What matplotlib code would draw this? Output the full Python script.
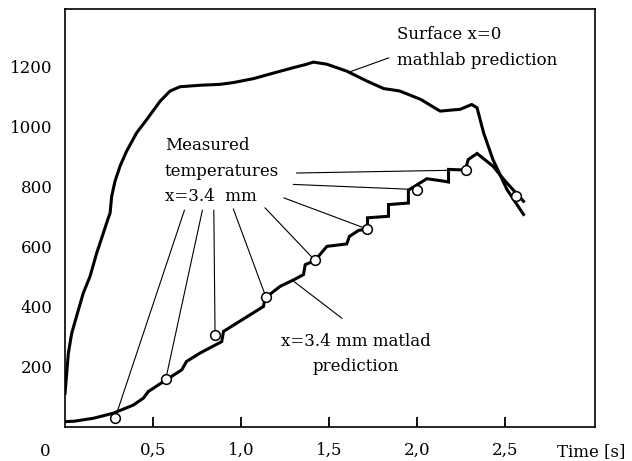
import numpy as np
import matplotlib
matplotlib.use("Agg")
import matplotlib.pyplot as plt

plt.rcParams['font.family'] = ['DejaVu Serif']

# Surface x=0, mathlab prediction
surf_t = [0, 0.019, 0.038, 0.076, 0.104, 0.142, 0.18, 0.218, 0.246, 0.256, 0.265, 0.284,
          0.3125, 0.35, 0.407, 0.464, 0.54, 0.597, 0.653, 0.767, 0.88, 0.956, 1.07, 1.18,
          1.30, 1.373, 1.41, 1.487, 1.60, 1.714, 1.81, 1.90, 2.02, 2.13, 2.244, 2.31,
          2.34, 2.377, 2.43, 2.51, 2.604]
surf_T = [112, 246, 312, 390, 446, 501, 579, 646, 696, 712, 768, 818,
          868, 918, 979, 1023, 1084, 1118, 1132, 1137, 1140, 1146, 1159, 1177,
          1196, 1207, 1214, 1207, 1184, 1151, 1126, 1118, 1090, 1051, 1057, 1073,
          1062, 979, 890, 790, 707]

# x=3.4 mm, matlad prediction
pred_t = [0, 0.05, 0.161, 0.275, 0.388, 0.445, 0.473, 0.559, 0.663, 0.69, 0.767, 0.89,
          0.90, 1.127, 1.136, 1.222, 1.30, 1.354, 1.364, 1.42, 1.487, 1.60, 1.615, 1.667,
          1.718, 1.718, 1.837, 1.837, 1.95, 1.95, 2.055, 2.15, 2.178, 2.178, 2.273, 2.29,
          2.34, 2.43, 2.50, 2.604]
pred_T = [18, 19, 29, 46, 73, 96, 118, 151, 190, 218, 246, 284,
          318, 401, 429, 468, 490, 507, 540, 554, 601, 609, 634, 654,
          659, 696, 701, 740, 745, 788, 826, 818, 815, 857, 855, 890,
          910, 868, 818, 751]

# measured temperatures x=3.4 mm
meas_t = [0.284, 0.572, 0.852, 1.14, 1.42, 1.714, 1.998, 2.275, 2.564]
meas_T = [29, 159, 307, 434, 554, 659, 790, 855, 768]

# start points of the leader lines (under the label)
lead_t = [0.678, 0.78, 0.845, 0.956, 1.136, 1.244, 1.297, 1.316]
lead_T = [721, 721, 721, 725, 729, 762, 807, 845]

xticks = [0.5, 1.0, 1.5, 2.0, 2.5]
xlabels = ['0,5', '1,0', '1,5', '2,0', '2,5']
yticks = [200, 400, 600, 800, 1000, 1200]

fig = plt.figure(figsize=(6.32, 4.61), dpi=100)
ax = fig.add_axes([0.1029, 0.0738, 0.8386, 0.9062])

ax.plot(surf_t, surf_T, color='black', lw=2.2, solid_joinstyle='round')
ax.plot(pred_t, pred_T, color='black', lw=2.2, solid_joinstyle='miter')

for i in range(len(lead_t)):
    ax.plot([lead_t[i], meas_t[i]], [lead_T[i], meas_T[i]], color='black', lw=0.8)

ax.plot(meas_t, meas_T, 'o', ms=7, mfc='white', mec='black', mew=1.1, zorder=5)

fs = 12
# labels
ax.text(0.568, 938, 'Measured', fontsize=fs, va='center', ha='left')
ax.text(0.568, 850, 'temperatures', fontsize=fs, va='center', ha='left')
ax.text(0.568, 768, 'x=3.4  mm', fontsize=fs, va='center', ha='left')

ax.text(1.884, 1307, 'Surface x=0', fontsize=fs, va='center', ha='left')
ax.text(1.884, 1218, 'mathlab prediction', fontsize=fs, va='center', ha='left')
ax.plot([1.838, 1.61], [1228, 1180], color='black', lw=0.8)

ax.text(1.653, 284, 'x=3.4 mm matlad', fontsize=fs, va='center', ha='center')
ax.text(1.653, 201, 'prediction', fontsize=fs, va='center', ha='center')
ax.plot([1.572, 1.30], [362, 484], color='black', lw=0.8)

ax.text(-0.114, -83, '0', fontsize=fs, va='center', ha='center', clip_on=False)
ax.text(2.99, -83, 'Time [s]', fontsize=fs, va='center', ha='center', clip_on=False)

ax.set_xlim(0, 3.01)
ax.set_ylim(0, 1390)
ax.set_xticks(xticks)
ax.set_xticklabels(xlabels)
ax.set_yticks(yticks)
ax.set_yticklabels([str(v) for v in yticks])
ax.tick_params(axis='x', direction='in', length=7, width=1.3, labelsize=fs, pad=11)
ax.tick_params(axis='y', length=0, labelsize=fs, pad=9)
for s in ax.spines.values():
    s.set_linewidth(1.2)

fig.savefig('out.png', dpi=100)
